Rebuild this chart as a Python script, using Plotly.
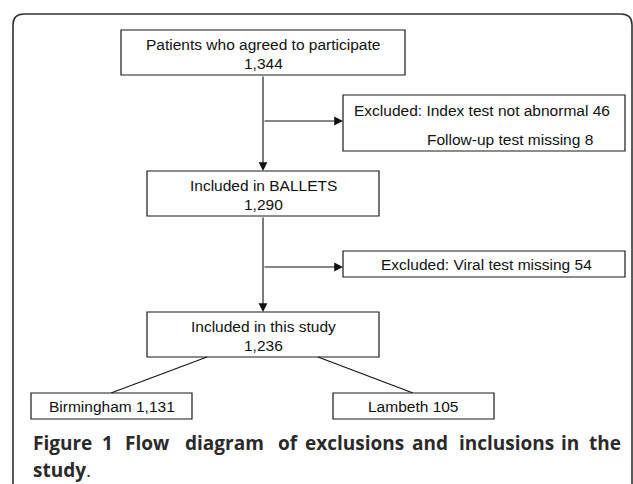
import plotly.graph_objects as go

# ---------------- data ----------------
stage_labels = ["Patients who agreed to participate", "Included in BALLETS", "Included in this study"]
stage_counts = [1344, 1290, 1236]
excl_labels = ["Excluded: Index test not abnormal", "Follow-up test missing", "Excluded: Viral test missing"]
excl_counts = [46, 8, 54]
site_labels = ["Birmingham", "Lambeth"]
site_counts = [1131, 105]
caption_line1 = "Figure 1 Flow diagram of exclusions and inclusions in the"
caption_line2 = "study"

# ---------------- layout geometry (pixels) ----------------
W, H = 633, 484
stage_boxes = [(121, 405, 30, 75), (147, 379, 171, 216), (147, 379, 312, 357)]
excl_boxes = [(343, 625, 95, 151), (343, 625, 251, 277)]
site_boxes = [(31, 192, 393, 419), (333, 494, 393, 419)]
spine_x = 263
branch_y = [121, 267]
caption_word_cx = [62, 107, 147, 224, 288, 354.5, 430, 506, 570, 605]  # justified line

BOX_FONT = dict(family="Liberation Sans, Arial, sans-serif", size=15.5, color="#111111")
CAP_FONT = dict(family="Open Sans, DejaVu Sans, sans-serif", size=19, color="#2a2a2a")

fig = go.Figure()
shapes = []
annotations = []


def box(x0, x1, y0, y1):
    shapes.append(dict(type="rect", xref="x", yref="y", x0=x0, x1=x1, y0=y0, y1=y1,
                       line=dict(color="#1a1a1a", width=1.2), fillcolor="white", layer="above"))


def text(x, y, s, font=BOX_FONT, xanchor="center"):
    annotations.append(dict(x=x, y=y, xref="x", yref="y", text=s, showarrow=False,
                            font=font, xanchor=xanchor, yanchor="middle"))


def arrow(x0, y0, x1, y1):
    annotations.append(dict(x=x1, y=y1, ax=x0, ay=y0, xref="x", yref="y", axref="x", ayref="y",
                            text="", showarrow=True, arrowhead=2, arrowsize=1.6, arrowwidth=1.1,
                            arrowcolor="#111111", standoff=0, startstandoff=0))


def line(x0, y0, x1, y1):
    shapes.append(dict(type="line", xref="x", yref="y", x0=x0, y0=y0, x1=x1, y1=y1,
                       line=dict(color="#111111", width=1.1)))


# outer rounded frame (extends past the right / bottom edges)
shapes.append(dict(type="path", xref="x", yref="y",
                   path="M 13,500 L 13,25 Q 13,14 24,14 L 621,14 Q 632,14 632,25 L 632,500",
                   line=dict(color="#333333", width=1.6)))

# stage boxes
for (x0, x1, y0, y1), lab, n in zip(stage_boxes, stage_labels, stage_counts):
    box(x0, x1, y0, y1)
    cx = (x0 + x1) / 2
    text(cx, y0 + 14, lab)
    text(cx, y0 + 33, f"{n:,}")

# spine arrows
arrow(spine_x, stage_boxes[0][3], spine_x, stage_boxes[1][2])
arrow(spine_x, stage_boxes[1][3], spine_x, stage_boxes[2][2])

# exclusion boxes and branch arrows
box(*excl_boxes[0])
text(482, 110, f"{excl_labels[0]} {excl_counts[0]}")
text(510, 139, f"{excl_labels[1]} {excl_counts[1]}")
box(*excl_boxes[1])
text(486, 264, f"{excl_labels[2]} {excl_counts[2]}")
arrow(spine_x, branch_y[0], excl_boxes[0][0], branch_y[0])
arrow(spine_x, branch_y[1], excl_boxes[1][0], branch_y[1])

# site boxes and diagonal connectors
line(207, stage_boxes[2][3], 111, site_boxes[0][2])
line(318, stage_boxes[2][3], 413, site_boxes[1][2])
for (x0, x1, y0, y1), lab, n in zip(site_boxes, site_labels, site_counts):
    box(x0, x1, y0, y1)
    text((x0 + x1) / 2, (y0 + y1) / 2, f"{lab} {n:,}")

# caption (justified first line: one word per position)
for word, cx in zip(caption_line1.split(" "), caption_word_cx):
    text(cx, 443, f"<b>{word}</b>", font=CAP_FONT)
text(31, 470, f"<b>{caption_line2}</b>.", font=CAP_FONT, xanchor="left")

fig.add_trace(go.Scatter(x=[0, W], y=[0, H], mode="markers", marker=dict(opacity=0),
                         hoverinfo="skip", showlegend=False))

fig.update_layout(
    width=W, height=H, margin=dict(l=0, r=0, t=0, b=0),
    paper_bgcolor="white", plot_bgcolor="white",
    xaxis=dict(range=[0, W], visible=False, fixedrange=True),
    yaxis=dict(range=[H, 0], visible=False, fixedrange=True),
    shapes=shapes, annotations=annotations, showlegend=False,
)

fig.write_html("out.html", config={"displayModeBar": False},
               post_script="document.body.style.margin='0';document.body.style.overflow='hidden';")
